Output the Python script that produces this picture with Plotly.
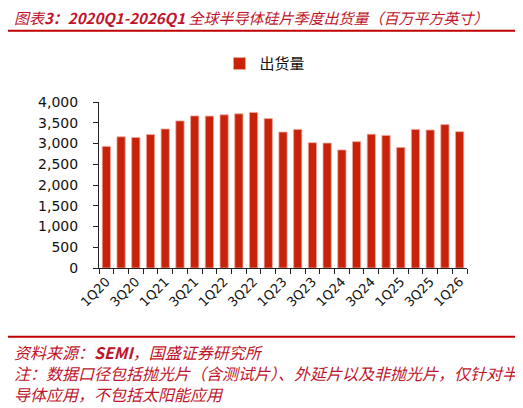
import plotly.graph_objects as go

quarters = [
    "1Q20", "2Q20", "3Q20", "4Q20",
    "1Q21", "2Q21", "3Q21", "4Q21",
    "1Q22", "2Q22", "3Q22", "4Q22",
    "1Q23", "2Q23", "3Q23", "4Q23",
    "1Q24", "2Q24", "3Q24", "4Q24",
    "1Q25", "2Q25", "3Q25", "4Q25",
    "1Q26",
]
shipments = [
    2930, 3160, 3145, 3215,
    3350, 3545, 3665, 3660,
    3690, 3715, 3750, 3600,
    3275, 3340, 3020, 3010,
    2845, 3045, 3225, 3195,
    2905, 3340, 3325, 3455,
    3285,
]
y_ticks = [0, 500, 1000, 1500, 2000, 2500, 3000, 3500, 4000]

red = "#C8230A"
text_red = "#C0142C"
cjk = "Noto Sans CJK SC"

x_pos = list(range(len(quarters)))

fig = go.Figure()
fig.add_trace(
    go.Bar(
        x=x_pos,
        y=shipments,
        name="出货量",
        marker=dict(color=red, line=dict(color="#EBA89C", width=0.8)),
        width=0.56,
    )
)

# page body has an 8px margin, so the figure is 8px smaller than the window
fig.update_layout(
    width=515,
    height=400,
    margin=dict(l=91, r=56, t=94, b=140),
    paper_bgcolor="white",
    plot_bgcolor="white",
    showlegend=True,
    legend=dict(
        orientation="h",
        x=0.451,
        xanchor="center",
        y=1.23,
        yanchor="middle",
        font=dict(family=cjk, size=15, color="#111111"),
        itemwidth=30,
    ),
    xaxis=dict(
        range=[-0.5, len(quarters) - 0.5],
        tickvals=x_pos[::2],
        ticktext=quarters[::2],
        tickangle=-45,
        ticks="",
        showline=True,
        linecolor="#222222",
        linewidth=1,
        showgrid=False,
        zeroline=False,
        tickfont=dict(family="DejaVu Sans", size=13, color="#111111"),
        minor=dict(
            tickvals=[i - 0.5 for i in range(len(quarters) + 1)],
            ticks="outside",
            ticklen=5,
            tickcolor="#222222",
            tickwidth=1,
        ),
    ),
    yaxis=dict(
        range=[0, 4000],
        tickvals=y_ticks,
        ticktext=[f"{v:,}" for v in y_ticks],
        ticks="outside",
        ticklen=5,
        tickcolor="#222222",
        showline=True,
        linecolor="#222222",
        linewidth=1,
        showgrid=False,
        zeroline=False,
        ticklabelstandoff=12,
        tickfont=dict(family="DejaVu Sans", size=14, color="#111111"),
    ),
)

# title and separator lines
fig.add_annotation(
    text="图表<b>3：2020Q1-2026Q1</b> 全球半导体硅片季度出货量（百万平方英寸）",
    xref="paper", yref="paper",
    x=-0.236, y=1.512,
    xanchor="left", yanchor="middle",
    showarrow=False,
    font=dict(family=cjk, size=15, color=text_red, style="italic"),
)
fig.add_shape(
    type="line", xref="paper", yref="paper",
    x0=-0.25, x1=1.152, y0=1.4295, y1=1.4295,
    line=dict(color="#C00000", width=2),
)
fig.add_shape(
    type="line", xref="paper", yref="paper",
    x0=-0.25, x1=1.152, y0=-0.414, y1=-0.414,
    line=dict(color="#C00000", width=2),
)

notes = [
    "资料来源：<b>SEMI</b>，国盛证券研究所",
    "注：数据口径包括抛光片（含测试片）、外延片以及非抛光片，仅针对半",
    "导体应用，不包括太阳能应用",
]
fig.add_annotation(
    text="<br>".join(notes),
    xref="paper", yref="paper",
    x=-0.236, y=-0.631,
    xanchor="left", yanchor="middle",
    align="left",
    showarrow=False,
    font=dict(family=cjk, size=16, color=text_red, style="italic"),
)

fig.write_html("out.html")
